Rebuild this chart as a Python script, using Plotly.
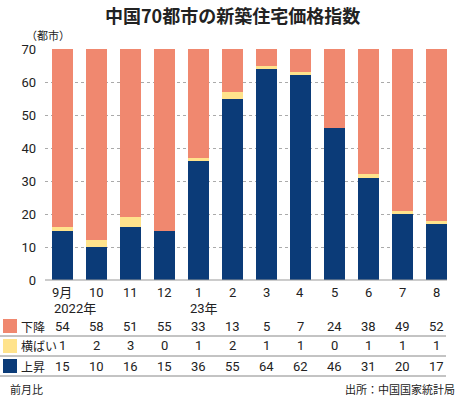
import plotly.graph_objects as go

months = ["9月", "10", "11", "12", "1", "2", "3", "4", "5", "6", "7", "8"]
years = ["2022年", "", "", "", "23年", "", "", "", "", "", "", ""]
down = [54, 58, 51, 55, 33, 13, 5, 7, 24, 38, 49, 52]
flat = [1, 2, 3, 0, 1, 2, 1, 1, 0, 1, 1, 1]
up = [15, 10, 16, 15, 36, 55, 64, 62, 46, 31, 20, 17]

C_DOWN = "#F0886F"
C_FLAT = "#FFE38C"
C_UP = "#0B3B78"
FONT = "Liberation Sans Narrow, Roboto, Noto Sans CJK JP, sans-serif"

W, H = 465, 399
L, R, T, B = 45, 18, 49, 119
PH = H - T - B
PW = W - L - R

def py(px):
    return (H - B - px) / PH

def pxp(px):
    return (px - L) / PW

xs = list(range(len(months)))
fig = go.Figure()
fig.add_bar(x=xs, y=up, marker_color=C_UP, marker_line_width=0, name="上昇")
fig.add_bar(x=xs, y=flat, marker_color=C_FLAT, marker_line_width=0, name="横ばい")
fig.add_bar(x=xs, y=down, marker_color=C_DOWN, marker_line_width=0, name="下降")

ann = []
ann.append(dict(text="<b>中国70都市の新築住宅価格指数</b>", x=pxp(232), xref="paper", xanchor="center",
                y=py(15), yref="paper", yanchor="middle", showarrow=False,
                font=dict(size=18, color="#222", family="Noto Sans CJK JP")))
ann.append(dict(text="（都市）", x=pxp(24), xref="paper", xanchor="left",
                y=py(35), yref="paper", yanchor="middle", showarrow=False,
                font=dict(size=11, color="#222", family="Noto Sans CJK JP")))
for i in xs:
    ann.append(dict(text=months[i], x=i, xref="x", y=py(292), yref="paper", yanchor="middle",
                    showarrow=False, font=dict(size=13, color="#222", family=FONT)))
    if years[i]:
        ann.append(dict(text=years[i], x=i - 0.3, xref="x", xanchor="left", y=py(308), yref="paper",
                        yanchor="middle", showarrow=False,
                        font=dict(size=13, color="#222", family=FONT)))
    for vals, ypx in ((down, 326), (flat, 346), (up, 366)):
        ann.append(dict(text=str(vals[i]), x=i, xref="x", y=py(ypx), yref="paper", yanchor="middle",
                        showarrow=False, font=dict(size=13, color="#222", family=FONT)))

for label, ypx in (("下降", 326), ("横ばい", 346), ("上昇", 366)):
    ann.append(dict(text=label, x=pxp(19), xref="paper", xanchor="left", y=py(ypx), yref="paper",
                    yanchor="middle", showarrow=False,
                    font=dict(size=12, color="#222", family="Noto Sans CJK JP")))

ann.append(dict(text="前月比", x=pxp(8), xref="paper", xanchor="left", y=py(389), yref="paper",
                yanchor="middle", showarrow=False,
                font=dict(size=11, color="#222", family="Noto Sans CJK JP")))
ann.append(dict(text="出所：中国国家統計局", x=pxp(457), xref="paper", xanchor="right", y=py(389),
                yref="paper", yanchor="middle", showarrow=False,
                font=dict(size=11, color="#222", family="Noto Sans CJK JP")))

shapes = []
for col, ypx in ((C_DOWN, 326), (C_FLAT, 346), (C_UP, 366)):
    shapes.append(dict(type="rect", xref="paper", yref="paper", x0=pxp(3), x1=pxp(17),
                       y0=py(ypx - 7), y1=py(ypx + 7), fillcolor=col, line_width=0))
for ypx in (336, 356, 376):
    shapes.append(dict(type="line", xref="paper", yref="paper", x0=pxp(0), x1=pxp(446),
                       y0=py(ypx), y1=py(ypx), line=dict(color="#888", width=1)))
shapes.append(dict(type="line", xref="paper", yref="paper", x0=0, x1=1,
                   y0=0, y1=0, line=dict(color="#999", width=1.2)))

fig.update_layout(
    width=W, height=H, margin=dict(l=L, r=R, t=T, b=B),
    barmode="stack", bargap=0.38, showlegend=False,
    plot_bgcolor="white", paper_bgcolor="white",
    xaxis=dict(range=[-0.51, 11.31], showticklabels=False, showgrid=False, zeroline=False,
               fixedrange=True),
    yaxis=dict(range=[0, 70], dtick=10, showgrid=True, gridcolor="#aaa", griddash="dot",
               gridwidth=1, zeroline=False, ticks="", ticklabelstandoff=8,
               tickfont=dict(size=13, color="#222", family=FONT)),
    annotations=ann, shapes=shapes,
)
fig.write_html("out.html", config={"displayModeBar": False},
               post_script="document.body.style.margin='0';")
